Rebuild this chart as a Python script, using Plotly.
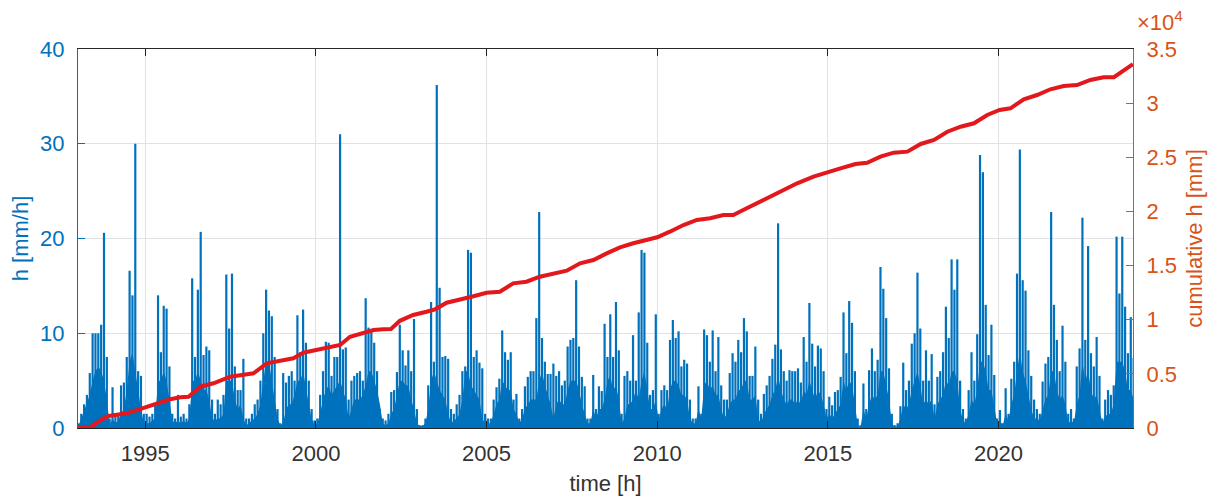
import plotly.graph_objects as go

# ---------------- data ----------------
start_year = 1993

# monthly peak hourly intensity h [mm/h] (Jan..Dec per year)
monthly_peak = [
    0.5, 1.5, 2.5, 3.5, 5.8, 10, 10, 10, 10.9, 20.6, 7.5, 1,          # 1993
    4.3, 1.5, 1.5, 4.5, 4.8, 7.5, 16.6, 14, 30, 6, 5.5, 1.5,          # 1994
    1.5, 1.2, 1.5, 2.5, 14, 8, 12.9, 12.6, 6.5, 1.5, 1.0, 3.5,        # 1995
    1.2, 1.5, 1.0, 2.5, 15.8, 7.5, 14.6, 20.7, 7.7, 8.6, 8.2, 3,      # 1996
    1.5, 3, 2.5, 3.5, 16.2, 10.5, 16.3, 6.5, 4, 4, 7.3, 1,            # 1997
    1, 1.5, 2.5, 3, 5, 10, 14.6, 12.4, 11.8, 7.5, 2, 0.5,             # 1998
    5.8, 4.8, 5.5, 6, 5, 11.9, 8, 12.5, 9, 5, 2, 0.8,                 # 1999
    1, 3.5, 6, 9.1, 9, 5.5, 7.5, 7.5, 31, 8.3, 8.5, 3,                # 2000
    5, 5.5, 5.8, 6, 5, 13.7, 10.6, 10.3, 9, 6, 2, 1,                  # 2001
    0.8, 1.5, 3.8, 4, 5.9, 10.9, 8.2, 6.6, 8.2, 6, 11.5, 2,           # 2002
    0.3, 0.3, 1, 4.5, 13.3, 7, 36.2, 14.8, 7.5, 7.6, 7.3, 2,          # 2003
    1.5, 2.5, 3.5, 6, 6.5, 18.8, 18.5, 7.5, 8.2, 6.9, 6.3, 1.5,       # 2004
    1, 1, 3, 4.3, 5.2, 10.3, 8, 7.2, 8, 3, 3.6, 1,                    # 2005
    2, 4.4, 5.4, 6, 6, 11.6, 22.8, 9.5, 7, 5.7, 5.7, 6.8,             # 2006
    5.5, 6, 4.5, 5, 8.6, 9.3, 9.5, 15.6, 8.6, 5.4, 4.4, 1,            # 2007
    1, 5.6, 2, 4.4, 3.9, 11, 7.5, 12, 7.5, 13.3, 8.2, 1.5,            # 2008
    5.5, 6, 5, 9.8, 5, 12.2, 18.8, 18.5, 9, 3.5, 4, 12,               # 2009
    1.5, 4, 4.5, 4, 9.3, 11.4, 9.5, 10.2, 6.5, 7.2, 6.8, 3,           # 2010
    1, 1, 4.4, 1.5, 10.4, 9.8, 7, 10.3, 6, 9.6, 4.5, 3,               # 2011
    3, 5.8, 7.9, 7, 9.3, 8, 11.6, 10.2, 5.5, 5.5, 8.6, 3,             # 2012
    1.5, 3.6, 4.5, 5.5, 7.3, 8.8, 21.6, 8.3, 6, 5, 6.1, 6,            # 2013
    6, 6.3, 4.8, 9.6, 7, 13.2, 8.9, 6.5, 8.7, 8.4, 6, 2,              # 2014
    3.3, 2.4, 3.8, 4, 5.4, 12.2, 7.9, 13.4, 11.1, 6, 1, 0.3,          # 2015
    4.7, 2, 6.1, 8.4, 6, 7.2, 17, 14.7, 11.6, 6.3, 1.5, 0.3,          # 2016
    0.5, 2.3, 6.9, 4, 5, 8.9, 10, 16.4, 10.5, 5, 8.2, 5,              # 2017
    7.8, 2.5, 5.4, 6, 8, 12.8, 9.5, 17.8, 14.6, 17.8, 5, 2,           # 2018
    1, 4, 8, 5, 9.9, 28.8, 27, 13, 7.7, 10.9, 5.6, 1,                 # 2019
    1.9, 0.5, 4.2, 1.5, 5.2, 7, 16.3, 29.4, 15.6, 14.5, 8.2, 5.5,     # 2020
    3, 2, 1.5, 4.9, 6.8, 7.5, 22.8, 13, 9.3, 6, 10.8, 7,              # 2021
    1.5, 2, 1, 6.5, 8.4, 22.2, 9.3, 19.2, 7.9, 6.5, 9.6, 5.5,         # 2022
    1, 3, 4, 3.5, 4.5, 20.2, 14.2, 20.2, 12.8, 7.9, 11.7, 7.4,        # 2023
]

# level of the dense hourly "body" under the peaks [mm/h] (Jan..Dec per year)
monthly_body = [
    0.2, 1, 1.8, 2.5, 3.5, 5, 6, 6.5, 6, 5, 3, 0.3,        # 1993
    1, 0.5, 0.8, 1.5, 2, 4, 7, 8, 6, 3.5, 2, 0.5,          # 1994
    0.5, 0.5, 0.8, 1, 5, 5, 6, 5, 3, 0.8, 0.5, 0.8,        # 1995
    0.5, 0.8, 0.5, 1, 5, 5, 6, 5, 4, 4, 3, 1,              # 1996
    0.8, 1, 1, 1.5, 5, 5, 5, 3, 2, 2.5, 1, 0.3,            # 1997
    0.5, 0.8, 1, 1.5, 2.5, 5, 7, 7, 5, 3, 1, 0.3,          # 1998
    0.5, 2, 2.5, 2.5, 3.5, 5, 5, 6, 4, 2.5, 1, 0.3,        # 1999
    0.5, 1.5, 3, 4, 4.5, 3.5, 4, 4.5, 5, 4, 3, 1,          # 2000
    2, 3, 3, 3, 3.5, 4.5, 6, 6, 5, 4, 2.5, 0.5,            # 2001
    0.3, 0.5, 1.5, 2, 3.5, 5, 5, 4.5, 4.5, 3, 2, 0.5,      # 2002
    0.2, 0.2, 0.5, 2, 5, 6, 5, 4, 3.5, 3, 1.5, 0.5,        # 2003
    0.8, 1, 1.5, 3, 6, 6, 4.5, 4, 3.5, 3, 1, 0.5,          # 2004
    0.5, 0.5, 1.5, 2.5, 3, 5, 4.5, 4, 4, 2, 1.5, 0.5,      # 2005
    1, 2, 2.5, 3, 3, 3, 5, 6, 4.5, 3.5, 2.5, 1,            # 2006
    2.5, 3, 2.5, 2.5, 4, 5, 5, 5, 4, 2.5, 1.5, 0.5,        # 2007
    0.5, 2, 1, 2, 2, 3, 5, 5.5, 4, 4.5, 3, 0.5,            # 2008
    1, 2.5, 2.5, 3, 4, 3, 5, 6, 4, 2, 2, 3,                # 2009
    0.8, 2, 2.5, 2, 4, 5, 5, 4.5, 3.5, 3.5, 3, 1,          # 2010
    0.5, 0.5, 2, 1, 4.5, 5, 4, 4.5, 3.5, 3.5, 2, 1,        # 2011
    1.5, 2.5, 3, 3, 4, 4, 5, 5, 3, 3, 3.5, 1,              # 2012
    0.5, 1.5, 2, 2.5, 3.5, 4, 5.5, 4, 3, 2.5, 3, 3,        # 2013
    2.5, 3, 2.5, 4, 3.5, 5, 4, 3, 4, 3.5, 2.5, 1,          # 2014
    1.5, 1, 1.5, 2, 2.5, 5, 4, 5, 4.5, 2.5, 0.3, 0.1,      # 2015
    2, 1, 2.5, 3.5, 3, 3.5, 6, 6, 4.5, 3, 0.5, 0.1,        # 2016
    0.2, 1, 2.5, 2, 2.5, 4, 5, 6, 4.5, 2.5, 3, 2.5,        # 2017
    3, 1, 2.5, 3, 3.5, 5, 4.5, 6, 6, 5, 2, 0.8,            # 2018
    0.5, 1.5, 3, 2.5, 4, 7, 7, 6, 4, 4, 2, 0.5,            # 2019
    0.8, 0.3, 1.5, 0.8, 2.5, 3.5, 6, 8, 6, 5, 3.5, 2,      # 2020
    1, 1, 0.8, 2, 3, 3.5, 6, 6, 4, 3, 3.5, 2.5,            # 2021
    0.5, 0.8, 0.5, 2.5, 3.5, 7, 5, 6, 4, 3, 3.5, 2,        # 2022
    0.5, 1.2, 1.5, 1.5, 2.5, 7, 7, 7, 6, 4, 4, 3,          # 2023
]

# cumulative rainfall [mm] (decimal year, value)
cum_t = [1993.0, 1993.4, 1993.78, 1993.93, 1994.46, 1995.0, 1995.44, 1995.73, 1996.03,
         1996.27, 1996.61, 1997.0, 1997.49, 1997.78, 1998.17, 1998.56, 1999.0, 1999.34,
         1999.63, 2000.0, 2000.32, 2000.71, 2001.0, 2001.49, 2001.69, 2001.98, 2002.2,
         2002.46, 2002.85, 2003.24, 2003.49, 2003.83, 2004.22, 2004.56, 2005.0, 2005.39,
         2005.78, 2006.17, 2006.56, 2006.95, 2007.35, 2007.74, 2008.13, 2008.52, 2008.91,
         2009.3, 2009.69, 2010.0, 2010.37, 2010.77, 2011.16, 2011.55, 2011.94, 2012.23,
         2012.52, 2012.91, 2013.3, 2013.69, 2014.1, 2014.58, 2015.0, 2015.37, 2015.81,
         2016.15, 2016.54, 2016.93, 2017.33, 2017.72, 2018.11, 2018.5, 2018.89, 2019.28,
         2019.67, 2020.03, 2020.35, 2020.74, 2021.13, 2021.52, 2021.91, 2022.3, 2022.69,
         2023.08, 2023.38, 2023.67, 2023.94]
cum_v = [0, 100, 895, 1108, 1357, 1910, 2280, 2650, 2835,
         2890, 3815, 4130, 4740, 4900, 5050, 5975, 6280, 6440,
         6950, 7200, 7360, 7665, 8430, 8890, 9050, 9110, 9150,
         9900, 10435, 10740, 10960, 11570, 11820, 12125, 12495, 12590,
         13360, 13510, 13970, 14285, 14530, 15210, 15515, 16130, 16685,
         17060, 17360, 17610, 18130, 18745, 19210, 19365, 19670, 19670,
         20130, 20750, 21360, 22040, 22600, 23210, 23670, 23980, 24380,
         24500, 25055, 25425, 25520, 26230, 26600, 27365, 27825, 28140,
         28905, 29370, 29525, 30355, 30750, 31280, 31585, 31675, 32140,
         32385, 32400, 33060, 33600]

x_ticks = [1995, 2000, 2005, 2010, 2015, 2020]
left_ticks = [0, 10, 20, 30, 40]
right_ticks = [0, 5000, 10000, 15000, 20000, 25000, 30000, 35000]
right_labels = ["0", "0.5", "1", "1.5", "2", "2.5", "3", "3.5"]

# ---------------- build figure ----------------
BLUE = "#0072BD"
ORANGE = "#D95319"
RED = "rgb(226,24,28)"
DARK = "#262626"
GRID = "#e0e3e6"
FS = 22

t_month = [start_year + i // 12 + (i % 12 + 0.5) / 12 for i in range(len(monthly_peak))]

stem_x, stem_y = [], []
for t, v in zip(t_month, monthly_peak):
    stem_x += [t, t, None]
    stem_y += [0, v, None]

fig = go.Figure()
fig.add_trace(go.Scatter(x=[start_year] + t_month + [t_month[-1] + 1 / 24],
                         y=[0] + monthly_body + [0],
                         mode="lines", line=dict(width=0, color=BLUE),
                         fill="tozeroy", fillcolor=BLUE, hoverinfo="skip"))
fig.add_trace(go.Scatter(x=stem_x, y=stem_y, mode="lines",
                         line=dict(width=2.2, color=BLUE), hoverinfo="skip"))
fig.add_trace(go.Scatter(x=cum_t, y=cum_v, mode="lines", yaxis="y2",
                         line=dict(width=4, color=RED)))

font_family = "Liberation Sans, Arial, Helvetica, sans-serif"
# the page body adds an 8 px offset, so margins are shifted to keep the plot box
# at the reference position (78..1133 x 49..428 on screen)
fig.update_layout(
    width=1222, height=502,
    margin=dict(l=70, r=97, t=41, b=82, autoexpand=False),
    plot_bgcolor="white", paper_bgcolor="white",
    showlegend=False,
    font=dict(family=font_family, size=FS, color=DARK),
    xaxis=dict(range=[1993.03, 2023.94], tickvals=x_ticks,
               ticktext=[str(v) for v in x_ticks],
               ticks="inside", ticklen=7, tickcolor=DARK, tickwidth=1,
               showline=True, linecolor=DARK, linewidth=1, mirror="ticks",
               showgrid=True, gridcolor=GRID, gridwidth=1, zeroline=False,
               tickfont=dict(size=FS, color="#333333"), ticklabelstandoff=6,
               title=dict(text="time [h]", font=dict(size=FS, color="#333333"), standoff=10)),
    yaxis=dict(range=[0, 40], tickvals=left_ticks,
               ticks="inside", ticklen=7, tickcolor=BLUE,
               showline=True, linecolor=BLUE, linewidth=1,
               showgrid=True, gridcolor=GRID, gridwidth=1, zeroline=False,
               tickfont=dict(size=FS, color=BLUE), ticklabelstandoff=8,
               title=dict(text="h [mm/h]", font=dict(size=FS, color=BLUE), standoff=6)),
    yaxis2=dict(range=[0, 35000], overlaying="y", side="right",
                tickvals=right_ticks, ticktext=right_labels,
                ticks="inside", ticklen=7, tickcolor=ORANGE,
                showline=True, linecolor=ORANGE, linewidth=1,
                showgrid=False, zeroline=False,
                tickfont=dict(size=FS, color=ORANGE), ticklabelstandoff=8,
                title=dict(text="cumulative h [mm]", font=dict(size=FS, color=ORANGE), standoff=10)),
    annotations=[dict(text="×10<sup>4</sup>", x=1, y=1, xref="paper", yref="paper",
                      xanchor="left", yanchor="bottom", xshift=2, yshift=12,
                      showarrow=False, font=dict(size=FS, color=ORANGE, family=font_family))],
)

fig.write_html("out.html")
